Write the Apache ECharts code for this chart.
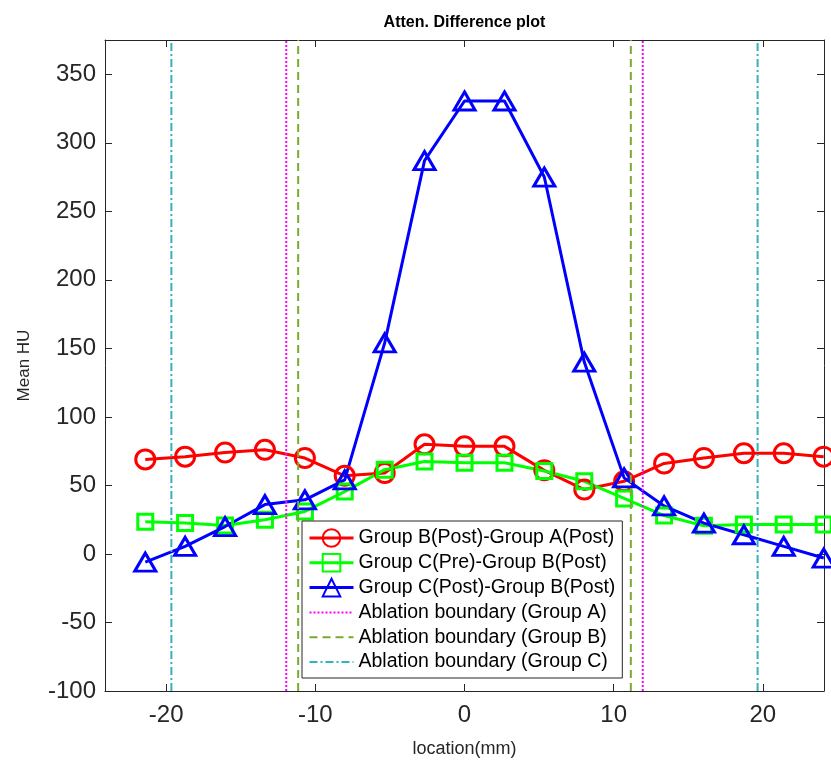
<!DOCTYPE html>
<html>
<head>
<meta charset="utf-8">
<script src="https://cdn.jsdelivr.net/npm/echarts@6/dist/echarts.min.js"></script>
<style>
html,body{margin:0;padding:0;background:#fff;}
#main{width:831px;height:760px;}
</style>
</head>
<body>
<div id="main"></div>
<script>
// ---- data ----
const locations = [-21.4, -18.73, -16.05, -13.38, -10.7, -8.03, -5.35, -2.68, 0, 2.68, 5.35, 8.03, 10.7, 13.38, 16.05, 18.73, 21.4, 24.08];
const groupBA = [69, 71, 74, 76, 70, 57, 59, 80, 78.5, 78.5, 61, 47, 53, 66, 70, 73.5, 73.5, 71];
const groupCpreB = [23.5, 22.5, 20.8, 25, 31, 45.5, 61.5, 67.5, 66.5, 66.5, 60.5, 53, 40.5, 28, 20.5, 21.5, 21.5, 21.5];
const groupCpostB = [-6, 5.5, 20, 36, 39.5, 54, 154, 287, 330.5, 330.5, 275, 140, 55.5, 35, 22.5, 14, 5.5, -3];
const boundaryA = [-11.95, 11.95];
const boundaryB = [-11.15, 11.15];
const boundaryC = [-19.65, 19.65];
const xTicks = [-20, -10, 0, 10, 20];
const yTicks = [-100, -50, 0, 50, 100, 150, 200, 250, 300, 350];
const seriesNames = ['Group B(Post)-Group A(Post)', 'Group C(Pre)-Group B(Post)', 'Group C(Post)-Group B(Post)',
  'Ablation boundary (Group A)', 'Ablation boundary (Group B)', 'Ablation boundary (Group C)'];
const xRange = [-24.1, 24.1];
const yRange = [-100, 375];

// ---- chart ----
const FONT = 'Liberation Sans, Arial, Helvetica, sans-serif';
const AX = '#262626';
const chart = echarts.init(document.getElementById('main'), null, {renderer: 'canvas'});

function pairs(xs, ys) { return xs.map((x, i) => [x, ys[i]]); }

function dataSeries(name, ys, color, symbol, size) {
  return {
    type: 'line', name: name, data: pairs(locations, ys),
    symbol: symbol, symbolSize: size, showAllSymbol: true,
    lineStyle: {color: color, width: 3},
    itemStyle: {color: 'rgba(255,255,255,0)', borderColor: color, borderWidth: 3},
    clip: false, animation: false, emphasis: {disabled: true}, z: 3
  };
}
function vLine(name, x, color, type, width) {
  return {
    type: 'line', name: name, data: [[x, yRange[0]], [x, yRange[1]]],
    symbol: 'none', lineStyle: {color: color, width: width, type: type},
    itemStyle: {color: color},
    animation: false, emphasis: {disabled: true}, z: 4
  };
}

const series = [
  dataSeries(seriesNames[0], groupBA, '#ff0000', 'circle', 19),
  dataSeries(seriesNames[1], groupCpreB, '#00ff00', 'rect', 15),
  dataSeries(seriesNames[2], groupCpostB, '#0000ff', 'triangle', [21, 18])
];
boundaryA.forEach(x => series.push(vLine(seriesNames[3], x, '#ff00ff', [2, 2], 2)));
boundaryB.forEach(x => series.push(vLine(seriesNames[4], x, '#77ac30', [8, 5], 2)));
boundaryC.forEach(x => series.push(vLine(seriesNames[5], x, '#2fb5bd', [8, 3, 2, 3], 2)));

function xAx(pos, showLabel) {
  return {
    type: 'value', position: pos, min: xRange[0], max: xRange[1],
    axisLine: {show: true, onZero: false, lineStyle: {color: AX, width: 1}},
    axisTick: {show: true, inside: true, length: 7, customValues: xTicks, lineStyle: {color: AX}},
    axisLabel: {show: showLabel, customValues: xTicks, fontSize: 24, color: AX, fontFamily: FONT, margin: 12},
    splitLine: {show: false},
    name: showLabel ? 'location(mm)' : 'Atten. Difference plot',
    nameLocation: 'middle',
    nameGap: showLabel ? 49 : 9,
    nameTextStyle: showLabel ? {fontSize: 18, color: AX, fontFamily: FONT}
                             : {fontSize: 16, fontWeight: 'bold', color: '#000', fontFamily: FONT}
  };
}
function yAx(pos, showLabel) {
  return {
    type: 'value', position: pos, min: yRange[0], max: yRange[1],
    axisLine: {show: true, onZero: false, lineStyle: {color: AX, width: 1}},
    axisTick: {show: true, inside: true, length: 7, customValues: yTicks, lineStyle: {color: AX}},
    axisLabel: {show: showLabel, customValues: yTicks, fontSize: 24, color: AX, fontFamily: FONT, margin: 9},
    splitLine: {show: false},
    name: showLabel ? 'Mean HU' : '',
    nameLocation: 'middle', nameGap: 72,
    nameTextStyle: {fontSize: 17, color: AX, fontFamily: FONT}
  };
}

const legendData = seriesNames.map((n, i) => i < 3
  ? {name: n, lineStyle: {width: 3}}
  : {name: n, itemStyle: {opacity: 0}, lineStyle: {width: 2}});

chart.setOption({
  animation: false,
  backgroundColor: '#fff',
  grid: {left: 105, right: 7, top: 40, bottom: 69, containLabel: false, outerBoundsMode: 'none'},
  xAxis: [xAx('bottom', true), xAx('top', false)],
  yAxis: [yAx('left', true), yAx('right', false)],
  legend: {
    orient: 'vertical', left: 302, top: 521,
    data: legendData,
    backgroundColor: '#fff', borderColor: AX, borderWidth: 1,
    padding: [7, 7, 6, 6],
    itemWidth: 44, itemHeight: 22, itemGap: 4.8,
    textStyle: {fontSize: 19.5, color: '#000', fontFamily: FONT, lineHeight: 20},
    selectedMode: false
  },
  series: series
});
</script>
</body>
</html>
